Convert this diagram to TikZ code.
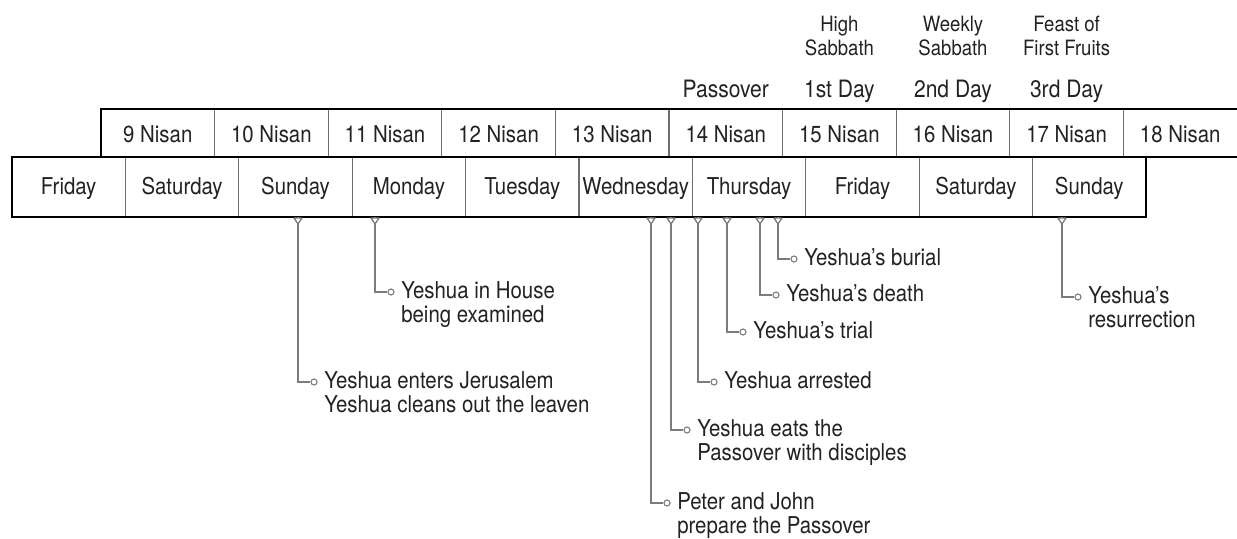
\documentclass[tikz,border=0pt]{standalone}
\usepackage{fontspec}
\setmainfont{TeX Gyre Heros}[FakeStretch=0.88]
\usetikzlibrary{calc}

\definecolor{inkgray}{HTML}{222222}
\definecolor{linegray}{HTML}{6E6E6E}
\definecolor{stemgray}{HTML}{7C7C7C}

\def\dayleft{12}
\def\daywidth{113.4}
\def\nisanleft{101}
\def\nisanwidth{113.6}
\def\rowtop{109}
\def\rowmid{157}
\def\rowbottom{217}
\def\dotshift{16}
\newcommand\callout[4]{%
    % #1: Name
    % #2: X coordinate of the stem
    % #3: Y coordinate of the bend
    % #4: Text
    \coordinate (#1-top) at (#2,\rowbottom);
    \coordinate (#1-bend) at (#2,#3);
    \node[dot] (#1-dot) at ($(#1-bend)+(\dotshift,0)$) {};
    \node[note text] (#1) at ($(#1-bend)+(26,6)$)
        {\begin{tabular}[t]{@{}l@{}}#4\end{tabular}};
    \draw[stem] (#1-top) -- (#1-bend) -- (#1-dot);
    \draw[stem,fill=white,line join=round]
        ($(#1-top)+(-4,1)$) -- ($(#1-top)+(0,7)$) -- ($(#1-top)+(4,1)$) -- cycle;
}

\begin{document}
\begin{tikzpicture}[
        x=0.025cm,y=-0.025cm,
        frame/.style={draw=black,line width=2pt},
        cellsep/.style={draw=linegray,line width=0.8pt},
        stem/.style={draw=stemgray,line width=0.9pt},
        dot/.style={circle,draw=stemgray,fill=white,line width=0.8pt,
            inner sep=0pt,minimum size=0.15cm},
        cell text/.style={text=inkgray,inner sep=0pt,anchor=base,
            font=\fontsize{16.5}{17}\selectfont},
        head text/.style={text=inkgray,inner sep=0pt,anchor=base,
            font=\fontsize{17}{18}\selectfont},
        feast text/.style={text=inkgray,inner sep=0pt,anchor=base,
            font=\fontsize{15}{17.3}\selectfont},
        note text/.style={text=inkgray,inner sep=0pt,anchor=base west,
            font=\fontsize{16.5}{17.2}\selectfont},
    ]
    \useasboundingbox (0,0) rectangle (1237,539);

    % Nisan row
    \foreach \i in {1,...,9}
        \draw[cellsep] ({\nisanleft+\i*\nisanwidth},\rowtop) -- ({\nisanleft+\i*\nisanwidth},\rowmid);
    \foreach \n [count=\i from 0] in {9,...,18}
        \node[cell text] (nisan\n) at ({\nisanleft+(\i+0.5)*\nisanwidth},142) {\n\ Nisan};

    % day row
    \foreach \i in {1,...,9}
        \draw[cellsep] ({\dayleft+\i*\daywidth},\rowmid) -- ({\dayleft+\i*\daywidth},\rowbottom);
    \foreach \d [count=\i from 0] in {Friday,Saturday,Sunday,Monday,Tuesday,Wednesday,Thursday,Friday,Saturday,Sunday}
        \node[cell text] (wd\i) at ({\dayleft+(\i+0.5)*\daywidth},194) {\d};

    \draw[frame] (\nisanleft,\rowmid) -- (\nisanleft,\rowtop) -- (1245,\rowtop);
    \draw[frame] (\dayleft,\rowmid) rectangle ({\dayleft+10*\daywidth},\rowbottom);
    \draw[frame] ({\dayleft+10*\daywidth},\rowmid) -- (1245,\rowmid);

    % feast days
    \foreach \lbl/\k in {Passover/14,1st Day/15,2nd Day/16,3rd Day/17}
        \node[head text] (feastday\k) at ({\nisanleft+(\k-8.5)*\nisanwidth},97) {\lbl};
    \foreach \lbl/\k in {{High\\Sabbath}/15,{Weekly\\Sabbath}/16,{Feast of\\First Fruits}/17}
        \node[feast text] (sabbath\k) at ({\nisanleft+(\k-8.5)*\nisanwidth},31)
            {\begin{tabular}[t]{@{}c@{}}\lbl\end{tabular}};

    % events
    \callout{enter}{298}{382}{Yeshua enters Jerusalem\\Yeshua cleans out the leaven}
    \callout{house}{375}{292}{Yeshua in House\\being examined}
    \callout{prepare}{651}{503}{Peter and John\\prepare the Passover}
    \callout{eats}{671}{430}{Yeshua eats the\\Passover with disciples}
    \callout{arrested}{698}{382}{Yeshua arrested}
    \callout{trial}{727}{332}{Yeshua’s trial}
    \callout{death}{760}{295}{Yeshua’s death}
    \callout{burial}{778}{259}{Yeshua’s burial}
    \callout{rising}{1062}{297}{Yeshua’s\\resurrection}

\end{tikzpicture}
\end{document}
